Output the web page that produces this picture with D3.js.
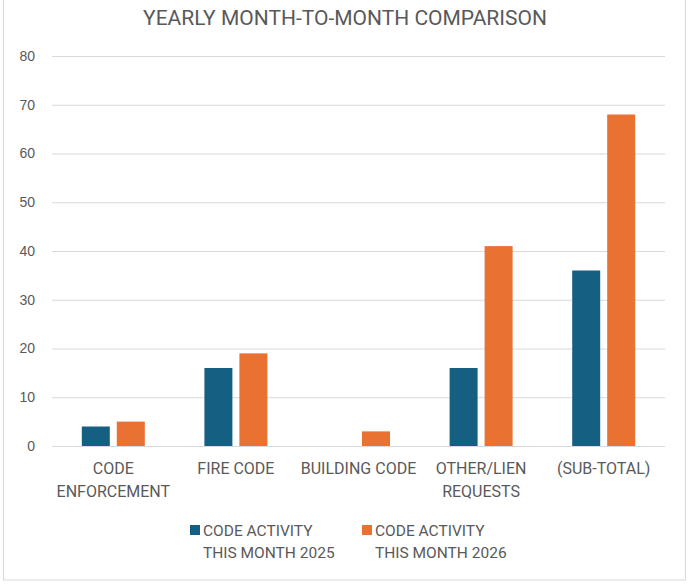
<!DOCTYPE html>
<html>
<head>
<meta charset="utf-8">
<script src="https://cdn.jsdelivr.net/npm/d3@7"></script>
<style>
  html, body { margin: 0; padding: 0; background: #fff; }
  svg { display: block; }
</style>
</head>
<body>
<svg id="chart" width="692" height="584"></svg>
<script>
// Monthly code activity by category
const categories = [
  ["CODE", "ENFORCEMENT"],
  ["FIRE CODE"],
  ["BUILDING CODE"],
  ["OTHER/LIEN", "REQUESTS"],
  ["(SUB-TOTAL)"]
];
const series2025 = [4, 16, 0, 16, 36];
const series2026 = [5, 19, 3, 41, 68];
const seriesNames = [
  ["CODE ACTIVITY", "THIS MONTH 2025"],
  ["CODE ACTIVITY", "THIS MONTH 2026"]
];
const yTicks = [0, 10, 20, 30, 40, 50, 60, 70, 80];
const colors = ["#156082", "#E97132"];

const svg = d3.select("#chart");
const textColor = "#595959";
const labelFont = "Roboto, 'Liberation Sans', sans-serif";

// chart frame
svg.append("rect")
  .attr("x", 3.5).attr("y", -2)
  .attr("width", 682).attr("height", 582)
  .attr("fill", "#fff")
  .attr("stroke", "#d9d9d9").attr("stroke-width", 1);

svg.append("text")
  .attr("x", 345).attr("y", 25)
  .attr("text-anchor", "middle")
  .attr("font-family", "Roboto, sans-serif")
  .attr("font-size", 21)
  .attr("fill", textColor)
  .text("YEARLY MONTH-TO-MONTH COMPARISON");

const plot = { left: 52, right: 665, top: 56, bottom: 446 };

const x = d3.scaleBand()
  .domain(d3.range(categories.length))
  .range([plot.left, plot.right]);

const y = d3.scaleLinear()
  .domain([0, 80])
  .range([plot.bottom, plot.top]);

// gridlines
svg.append("g")
  .selectAll("line")
  .data(yTicks)
  .join("line")
  .attr("x1", plot.left).attr("x2", plot.right)
  .attr("y1", d => y(d) + 0.5).attr("y2", d => y(d) + 0.5)
  .attr("stroke", "#d9d9d9").attr("stroke-width", 1);

// y-axis labels
const yAxis = d3.axisLeft(y).tickValues(yTicks).tickSize(0).tickPadding(0);
const gy = svg.append("g")
  .attr("transform", `translate(35,0)`)
  .call(yAxis);
gy.select(".domain").remove();
gy.selectAll("text")
  .attr("font-family", "'Liberation Sans', Arial, sans-serif")
  .attr("font-size", 14)
  .attr("fill", textColor);

// bars
const barW = 28, gap = 7;
const groupW = barW * 2 + gap;
const seriesData = [series2025, series2026];

seriesData.forEach((vals, si) => {
  svg.append("g")
    .selectAll("rect")
    .data(vals)
    .join("rect")
    .attr("x", (d, i) => x(i) + (x.bandwidth() - groupW) / 2 + si * (barW + gap))
    .attr("y", d => y(d))
    .attr("width", barW)
    .attr("height", d => y(0) - y(d))
    .attr("fill", colors[si]);
});

// category labels
const gx = svg.append("g");
categories.forEach((lines, i) => {
  const t = gx.append("text")
    .attr("text-anchor", "middle")
    .attr("font-family", labelFont)
    .attr("font-size", 16)
    .attr("fill", textColor);
  lines.forEach((ln, j) => {
    t.append("tspan")
      .attr("x", x(i) + x.bandwidth() / 2)
      .attr("y", 474 + j * 23)
      .text(ln);
  });
});

// legend
const legendX = [190, 362];
seriesNames.forEach((lines, si) => {
  const g = svg.append("g");
  g.append("rect")
    .attr("x", legendX[si]).attr("y", 525)
    .attr("width", 10).attr("height", 10)
    .attr("fill", colors[si]);
  const t = g.append("text")
    .attr("font-family", labelFont)
    .attr("font-size", 15.5)
    .attr("fill", textColor);
  lines.forEach((ln, j) => {
    t.append("tspan")
      .attr("x", legendX[si] + 13)
      .attr("y", 536 + j * 22)
      .text(ln);
  });
});
</script>
</body>
</html>
